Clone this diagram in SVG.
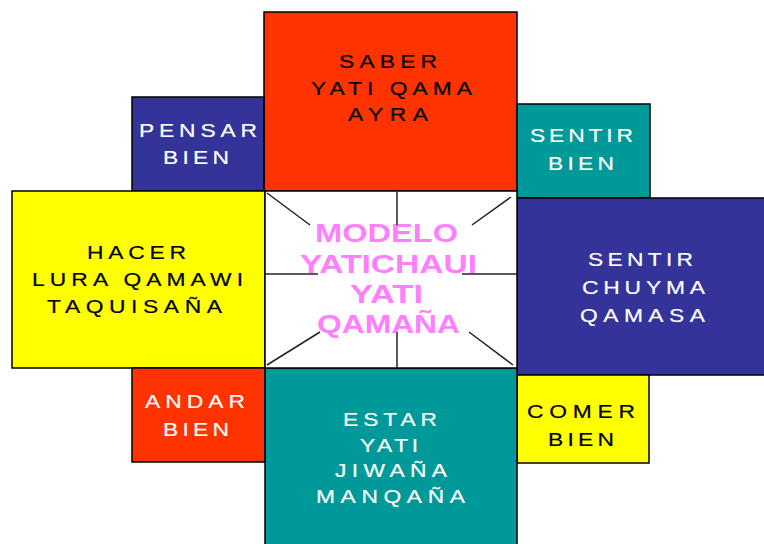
<svg xmlns="http://www.w3.org/2000/svg" width="764" height="544" viewBox="0 0 764 544">
<style>
.box{stroke:#000;stroke-width:1.5}
.t{font-family:"Liberation Sans",Arial,sans-serif;font-size:19px;text-anchor:middle;stroke-width:0.2}
.w{fill:#fff;stroke:#fff}
.k{fill:#000;stroke:#000}
.c{font-family:"Liberation Sans",Arial,sans-serif;font-size:26px;font-weight:bold;text-anchor:middle;fill:#ff7fff}
.ln{stroke:#222;stroke-width:1.5;fill:none}
</style>
<rect width="764" height="544" fill="#fff"/>
<g id="saber">
<rect class="box" x="264" y="12" width="253" height="179" fill="#ff3300"/>
<text class="t k" transform="translate(388 0) scale(1.2 1)" x="0" y="68" textLength="81.7" lengthAdjust="spacing">SABER</text>
<text class="t k" transform="translate(391.5 0) scale(1.2 1)" x="0" y="95" textLength="134.2" lengthAdjust="spacing">YATI QAMA</text>
<text class="t k" transform="translate(388 0) scale(1.2 1)" x="0" y="121" textLength="66.7" lengthAdjust="spacing">AYRA</text>
</g>
<g id="pensar">
<rect class="box" x="132" y="97" width="132" height="94" fill="#333399"/>
<text class="t w" transform="translate(198 0) scale(1.2 1)" x="0" y="137" textLength="98.3" lengthAdjust="spacing">PENSAR</text>
<text class="t w" transform="translate(196 0) scale(1.2 1)" x="0" y="164" textLength="55" lengthAdjust="spacing">BIEN</text>
</g>
<g id="sentir-bien">
<rect class="box" x="517" y="104" width="133" height="94" fill="#009999"/>
<text class="t w" transform="translate(581.5 0) scale(1.2 1)" x="0" y="142" textLength="85.8" lengthAdjust="spacing">SENTIR</text>
<text class="t w" transform="translate(581 0) scale(1.2 1)" x="0" y="170" textLength="55" lengthAdjust="spacing">BIEN</text>
</g>
<g id="hacer">
<rect class="box" x="12" y="191" width="253" height="177" fill="#ffff00"/>
<text class="t k" transform="translate(136.5 0) scale(1.2 1)" x="0" y="259" textLength="82.5" lengthAdjust="spacing">HACER</text>
<text class="t k" transform="translate(137.5 0) scale(1.2 1)" x="0" y="286" textLength="175.8" lengthAdjust="spacing">LURA QAMAWI</text>
<text class="t k" transform="translate(134.5 0) scale(1.2 1)" x="0" y="313" textLength="145.8" lengthAdjust="spacing">TAQUISAÑA</text>
</g>
<g id="sentir-chuyma">
<rect class="box" x="517" y="198" width="260" height="177" fill="#333399"/>
<text class="t w" transform="translate(640.5 0) scale(1.2 1)" x="0" y="266" textLength="87.5" lengthAdjust="spacing">SENTIR</text>
<text class="t w" transform="translate(643.5 0) scale(1.2 1)" x="0" y="294" textLength="102.5" lengthAdjust="spacing">CHUYMA</text>
<text class="t w" transform="translate(642.5 0) scale(1.2 1)" x="0" y="322" textLength="104.2" lengthAdjust="spacing">QAMASA</text>
</g>
<g id="andar">
<rect class="box" x="132" y="368" width="133" height="94" fill="#ff3300"/>
<text class="t w" transform="translate(195 0) scale(1.2 1)" x="0" y="408" textLength="83.3" lengthAdjust="spacing">ANDAR</text>
<text class="t w" transform="translate(196 0) scale(1.2 1)" x="0" y="436" textLength="55" lengthAdjust="spacing">BIEN</text>
</g>
<g id="comer">
<rect class="box" x="517" y="375" width="132" height="88" fill="#ffff00"/>
<text class="t k" transform="translate(581 0) scale(1.2 1)" x="0" y="418" textLength="90" lengthAdjust="spacing">COMER</text>
<text class="t k" transform="translate(581 0) scale(1.2 1)" x="0" y="446" textLength="55" lengthAdjust="spacing">BIEN</text>
</g>
<g id="estar">
<rect class="box" x="265" y="368" width="252" height="190" fill="#009999"/>
<text class="t w" transform="translate(390 0) scale(1.2 1)" x="0" y="426" textLength="78.3" lengthAdjust="spacing">ESTAR</text>
<text class="t w" transform="translate(389 0) scale(1.2 1)" x="0" y="452" textLength="48.3" lengthAdjust="spacing">YATI</text>
<text class="t w" transform="translate(391 0) scale(1.2 1)" x="0" y="477" textLength="93.3" lengthAdjust="spacing">JIWAÑA</text>
<text class="t w" transform="translate(390.5 0) scale(1.2 1)" x="0" y="503" textLength="124.2" lengthAdjust="spacing">MANQAÑA</text>
</g>
<g id="modelo">
<rect class="box" x="265" y="191" width="252" height="177" fill="#fff"/>
<text class="c" x="386.5" y="242" textLength="143" lengthAdjust="spacingAndGlyphs">MODELO</text>
<text class="c" x="388.5" y="272.5" textLength="177" lengthAdjust="spacingAndGlyphs">YATICHAUI</text>
<text class="c" x="386.5" y="302.5" textLength="73" lengthAdjust="spacingAndGlyphs">YATI</text>
<text class="c" x="388.5" y="333" textLength="143" lengthAdjust="spacingAndGlyphs">QAMAÑA</text>
</g>
<g id="connectors">
<line class="ln" x1="397" y1="191" x2="397" y2="225"/>
<line class="ln" x1="397" y1="332" x2="397" y2="368"/>
<line class="ln" x1="265" y1="274" x2="318" y2="274"/>
<line class="ln" x1="462" y1="274" x2="517" y2="274"/>
<line class="ln" x1="267" y1="193" x2="310" y2="225"/>
<line class="ln" x1="511" y1="197" x2="472" y2="225"/>
<line class="ln" x1="320" y1="332" x2="267" y2="365"/>
<line class="ln" x1="469" y1="332" x2="513" y2="365"/>
</g>
</svg>
